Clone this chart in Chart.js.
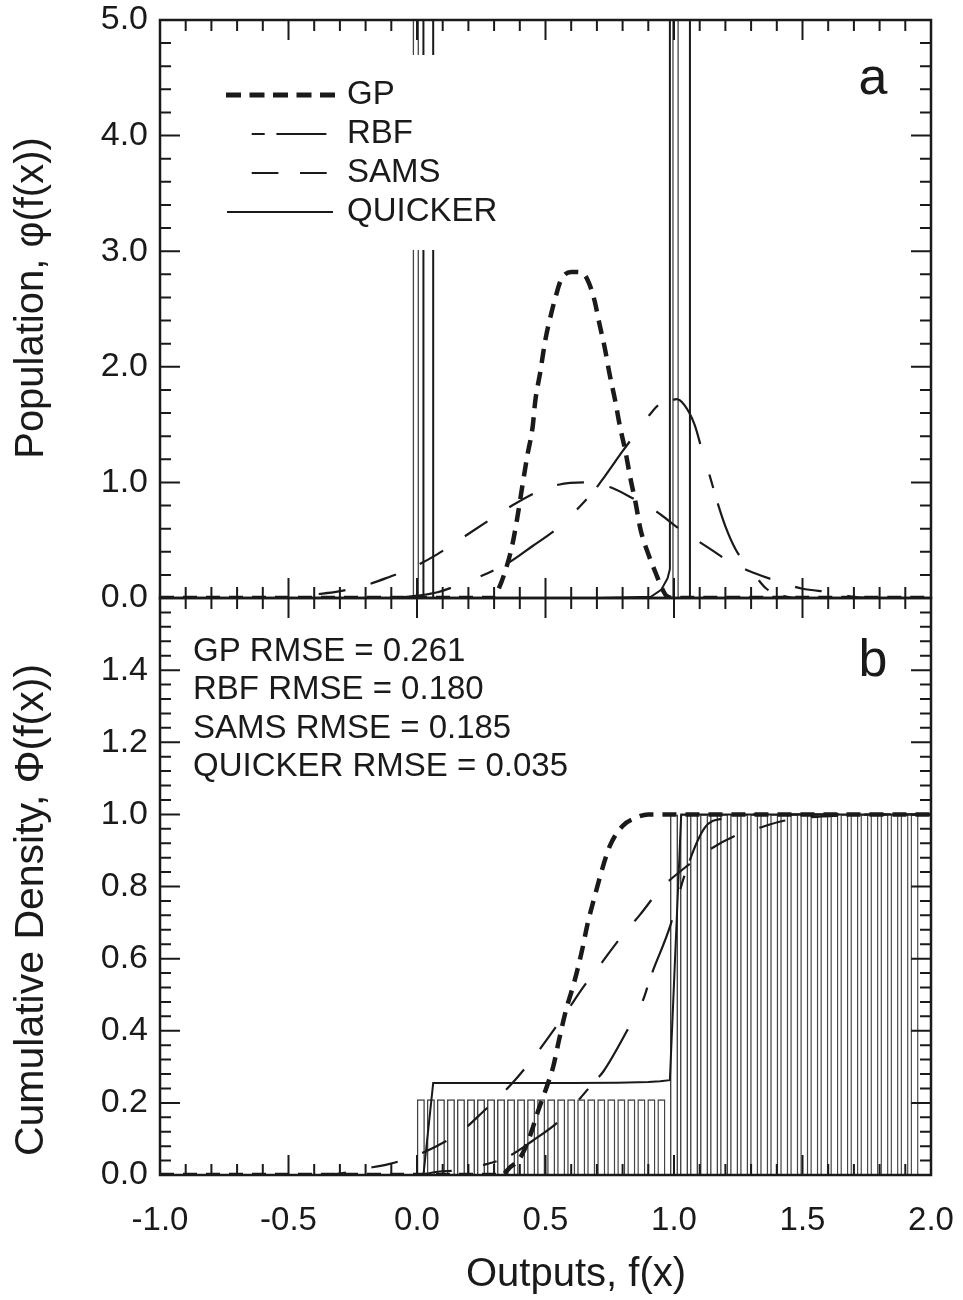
<!DOCTYPE html>
<html>
<head>
<meta charset="utf-8">
<title>Population and cumulative density</title>
<script src="https://cdn.jsdelivr.net/npm/chart.js@4.4.1/dist/chart.umd.min.js"></script>
<style>
  body { margin: 0; background: #fff; }
  #wrap { position: relative; width: 963px; height: 1300px; }
  #panelA { position: absolute; left: 0; top: 0; }
  #panelB { position: absolute; left: 0; top: 578px; }
</style>
</head>
<body>
<div id="wrap">
  <canvas id="panelA" width="963" height="630"></canvas>
  <canvas id="panelB" width="963" height="722"></canvas>
</div>
<script>
const INK = "#1a1a1a";
const FONT = '"Liberation Sans", Arial, Helvetica, sans-serif';

// ---- panel a : population phi(f(x)) ----
const GP_A_X = [-1.0, 0.30, 0.31, 0.34, 0.37, 0.39, 0.41, 0.43, 0.45, 0.46, 0.48, 0.50, 0.52, 0.54, 0.56, 0.60, 0.62, 0.65, 0.67, 0.69, 0.71, 0.73, 0.75, 0.77, 0.79, 0.81, 0.83, 0.85, 0.87, 0.90, 0.93, 0.95, 0.97, 1.00, 2.00];
const GP_A_Y = [0, 0, 0.04, 0.21, 0.45, 0.69, 0.97, 1.24, 1.48, 1.70, 1.96, 2.24, 2.44, 2.61, 2.75, 2.82, 2.82, 2.80, 2.72, 2.58, 2.37, 2.17, 1.93, 1.72, 1.48, 1.28, 1.04, 0.83, 0.59, 0.38, 0.21, 0.10, 0.02, 0, 0];

const RBF_A_X = [-1.0, -0.10, 0.00, 0.08, 0.17, 0.27, 0.36, 0.45, 0.55, 0.65, 0.69, 0.73, 0.80, 0.86, 0.90, 0.94, 0.99, 1.01, 1.04, 1.08, 1.11, 1.14, 1.17, 1.20, 1.24, 1.31, 1.36, 1.42, 1.50, 2.00];
const RBF_A_Y = [0, 0, 0.02, 0.05, 0.12, 0.21, 0.31, 0.45, 0.61, 0.83, 0.93, 1.05, 1.27, 1.45, 1.57, 1.67, 1.71, 1.72, 1.67, 1.50, 1.27, 1.05, 0.82, 0.62, 0.42, 0.21, 0.08, 0.02, 0, 0];

const SAMS_A_X = [-1.0, -0.50, -0.40, -0.31, -0.215, -0.11, -0.02, 0.08, 0.17, 0.265, 0.37, 0.47, 0.55, 0.65, 0.71, 0.75, 0.85, 0.93, 1.02, 1.13, 1.22, 1.32, 1.41, 1.50, 1.61, 1.70, 1.80, 2.00];
const SAMS_A_Y = [0, 0, 0.03, 0.055, 0.10, 0.18, 0.26, 0.38, 0.51, 0.65, 0.80, 0.92, 0.98, 1.00, 0.98, 0.96, 0.85, 0.75, 0.60, 0.44, 0.31, 0.21, 0.14, 0.08, 0.05, 0.01, 0, 0];

// spikes go off the top of the panel (8 > 5)
const QUICKER_A_X = [-1.0, 0.025, 0.025, 0.063, 0.063, 0.71, 0.91, 0.95, 0.975, 0.984, 0.984, 1.062, 1.062, 2.0];
const QUICKER_A_Y = [0, 0, 8, 8, 0, 0, 0.01, 0.07, 0.17, 0.25, 8, 8, 0, 0];

const TRUE_A_X = [-1.0, -0.014, -0.014, 0.005, 0.005, 0.996, 0.996, 1.016, 1.016, 2.0];
const TRUE_A_Y = [0, 0, 8, 8, 0, 0, 8, 8, 0, 0];

// ---- panel b : cumulative density Phi(f(x)) ----
const GP_B_X = [-1.0, 0.33, 0.36, 0.40, 0.43, 0.45, 0.47, 0.49, 0.51, 0.53, 0.55, 0.58, 0.61, 0.64, 0.665, 0.695, 0.72, 0.75, 0.80, 0.85, 0.90, 2.00];
const GP_B_Y = [0, 0, 0.02, 0.046, 0.09, 0.13, 0.175, 0.215, 0.255, 0.30, 0.366, 0.458, 0.53, 0.616, 0.70, 0.782, 0.847, 0.912, 0.968, 0.99, 1.0, 1.0];

const RBF_B_X = [-1.0, 0.0, 0.08, 0.17, 0.27, 0.355, 0.45, 0.55, 0.635, 0.685, 0.725, 0.83, 0.88, 0.91, 0.985, 1.04, 1.12, 1.20, 1.30, 2.00];
const RBF_B_Y = [0, 0, 0.009, 0.014, 0.03, 0.051, 0.095, 0.148, 0.213, 0.255, 0.287, 0.417, 0.486, 0.551, 0.69, 0.829, 0.963, 0.99, 1.0, 1.0];

const SAMS_B_X = [-1.0, -0.40, -0.31, -0.21, -0.11, -0.013, 0.074, 0.171, 0.258, 0.365, 0.442, 0.51, 0.587, 0.645, 0.713, 0.781, 0.868, 0.946, 1.042, 1.129, 1.236, 1.333, 1.419, 1.516, 1.65, 1.80, 2.00];
const SAMS_B_Y = [0, 0, 0.003, 0.017, 0.03, 0.052, 0.079, 0.12, 0.176, 0.25, 0.315, 0.38, 0.458, 0.519, 0.583, 0.648, 0.722, 0.792, 0.852, 0.898, 0.94, 0.963, 0.981, 0.991, 0.997, 1.0, 1.0];

const QUICKER_B_X = [-1.0, 0.025, 0.063, 0.30, 0.60, 0.78, 0.90, 0.946, 0.984, 1.028, 2.0];
const QUICKER_B_Y = [0, 0, 0.255, 0.255, 0.255, 0.256, 0.258, 0.26, 0.263, 1.0, 1.0];

// true cdf drawn as thin bars
const BAR_X = [0.015, 0.054, 0.093, 0.132, 0.171, 0.210, 0.249, 0.288, 0.327, 0.366, 0.405, 0.444, 0.483, 0.522, 0.561, 0.600, 0.639, 0.678, 0.717, 0.756, 0.795, 0.834, 0.873, 0.912, 0.951,
               1.000, 1.039, 1.078, 1.117, 1.156, 1.195, 1.234, 1.273, 1.312, 1.351, 1.390, 1.429, 1.468, 1.507, 1.546, 1.585, 1.624, 1.663, 1.702, 1.741, 1.780, 1.819, 1.858, 1.897, 1.936];
const BAR_Y = [0.21, 0.21, 0.21, 0.21, 0.21, 0.21, 0.21, 0.21, 0.21, 0.21, 0.21, 0.21, 0.21, 0.21, 0.21, 0.21, 0.21, 0.21, 0.21, 0.21, 0.21, 0.21, 0.21, 0.21, 0.21,
               1, 1, 1, 1, 1, 1, 1, 1, 1, 1, 1, 1, 1, 1, 1, 1, 1, 1, 1, 1, 1, 1, 1, 1, 1];

const LABELS = ["GP", "RBF", "SAMS", "QUICKER"];
const RMSE = ["0.261", "0.180", "0.185", "0.035"];

Chart.defaults.font.family = FONT;
Chart.defaults.color = INK;

function pts(xs, ys) {
  return xs.map((x, i) => ({ x: x, y: ys[i] }));
}

function curve(label, xs, ys, width, dash, smooth) {
  return {
    label: label,
    data: pts(xs, ys),
    borderColor: INK,
    borderWidth: width,
    borderDash: dash,
    pointRadius: 0,
    fill: false,
    tension: 0,
    cubicInterpolationMode: smooth ? "monotone" : "default"
  };
}

const GP_DASH = [14, 9];
const RBF_DASH = [56, 32, 14, 16];
const SAMS_DASH = [27, 26];

// keep the chart area where we put it: no extra room for edge labels
function fixY(s) { s.width = 160; s.paddingTop = 0; s.paddingBottom = 0; }
function fixX(s) { s.height = 125; s.paddingLeft = 0; s.paddingRight = 0; }

// frame + inward ticks on all four sides
const frameTicks = {
  id: "frameTicks",
  afterDraw(chart, args, o) {
    const { ctx, chartArea: a } = chart;
    const x = chart.scales.x, y = chart.scales.y;
    ctx.save();
    ctx.strokeStyle = INK;
    ctx.lineWidth = 2;
    ctx.beginPath();
    for (let k = 0; k <= 30; k++) {
      const px = x.getPixelForValue(-1 + k * 0.1);
      const len = k % 5 === 0 ? 20 : 11;
      ctx.moveTo(px, a.top); ctx.lineTo(px, a.top + len);
      ctx.moveTo(px, a.bottom); ctx.lineTo(px, a.bottom - len);
    }
    const n = Math.round(y.max / o.yStep);
    for (let k = 0; k <= n; k++) {
      const py = y.getPixelForValue(k * o.yStep);
      const len = k % 5 === 0 ? 20 : 11;
      ctx.moveTo(a.left, py); ctx.lineTo(a.left + len, py);
      ctx.moveTo(a.right, py); ctx.lineTo(a.right - len, py);
    }
    ctx.stroke();
    ctx.lineWidth = 2.5;
    ctx.strokeRect(a.left, a.top, a.right - a.left, a.bottom - a.top);
    ctx.restore();
  }
};

// legend box, annotations, panel letters, axis titles
const notes = {
  id: "notes",
  afterDatasetsDraw(chart, args, o) {
    const ctx = chart.ctx;
    ctx.save();
    if (o.box) {
      ctx.fillStyle = "#fff";
      ctx.fillRect(o.box[0], o.box[1], o.box[2], o.box[3]);
    }
    (o.keys || []).forEach(k => {
      ctx.strokeStyle = INK;
      ctx.lineWidth = k.width;
      ctx.setLineDash(k.dash);
      ctx.beginPath();
      ctx.moveTo(k.from, k.y);
      ctx.lineTo(k.to, k.y);
      ctx.stroke();
    });
    ctx.setLineDash([]);
    (o.texts || []).forEach(t => {
      ctx.font = t.size + "px " + FONT;
      ctx.fillStyle = INK;
      ctx.textAlign = t.align || "left";
      ctx.textBaseline = t.base || "middle";
      ctx.save();
      ctx.translate(t.x, t.y);
      if (t.rot) ctx.rotate(t.rot);
      ctx.fillText(t.text, 0, 0);
      ctx.restore();
    });
    ctx.restore();
  }
};

const keyRows = [
  { width: 5, dash: [15, 8.5], from: 226, to: 335, y: 95 },
  { width: 2, dash: [13, 11.7, 50, 30], from: 251.7, to: 327, y: 134 },
  { width: 2, dash: [26.7, 21.6], from: 251.7, to: 327, y: 173 },
  { width: 2, dash: [], from: 227, to: 333, y: 212 }
];
const keyTexts = LABELS.map((l, i) => ({ text: l, x: 347, y: keyRows[i].y, size: 33 }));

new Chart(document.getElementById("panelA"), {
  type: "line",
  data: {
    datasets: [
      curve("GP", GP_A_X, GP_A_Y, 4.5, GP_DASH, true),
      curve("RBF", RBF_A_X, RBF_A_Y, 2.2, RBF_DASH, true),
      curve("SAMS", SAMS_A_X, SAMS_A_Y, 2.2, SAMS_DASH, true),
      curve("QUICKER", QUICKER_A_X, QUICKER_A_Y, 2, [], false),
      Object.assign(curve("true", TRUE_A_X, TRUE_A_Y, 1.3, [], false), { borderColor: "#444" })
    ]
  },
  options: {
    responsive: false,
    animation: false,
    events: [],
    layout: { padding: { top: 20, right: 32, bottom: 32, left: 0 } },
    plugins: {
      legend: { display: false },
      tooltip: { enabled: false },
      frameTicks: { yStep: 0.2 },
      notes: {
        box: [200, 55, 315, 195],
        keys: keyRows,
        texts: keyTexts.concat([
          { text: "a", x: 873, y: 94, size: 52, align: "center", base: "alphabetic" },
          { text: "Population, \u03C6(f(x))", x: 32, y: 298, size: 40, align: "center", rot: -Math.PI / 2 }
        ])
      }
    },
    scales: {
      x: { type: "linear", min: -1, max: 2, display: false },
      y: {
        min: 0, max: 5,
        grid: { display: false, drawTicks: false },
        border: { display: false },
        ticks: { stepSize: 1, padding: 12, font: { size: 34 }, callback: v => v.toFixed(1) },
        afterFit: fixY
      }
    }
  },
  plugins: [frameTicks, notes]
});

const annTexts = LABELS.map((l, i) => ({ text: l + " RMSE = " + RMSE[i], x: 193, y: 74 + i * 38.4, size: 33 }));

new Chart(document.getElementById("panelB"), {
  type: "line",
  data: {
    datasets: [
      curve("GP", GP_B_X, GP_B_Y, 4.5, GP_DASH, true),
      curve("RBF", RBF_B_X, RBF_B_Y, 2.2, RBF_DASH, true),
      curve("SAMS", SAMS_B_X, SAMS_B_Y, 2.2, SAMS_DASH, true),
      curve("QUICKER", QUICKER_B_X, QUICKER_B_Y, 2, [], false),
      {
        type: "bar",
        label: "true",
        data: pts(BAR_X, BAR_Y),
        backgroundColor: "rgba(255,255,255,0)",
        borderColor: "#444",
        borderWidth: 1.4,
        barPercentage: 0.8,
        categoryPercentage: 1,
        order: 10
      }
    ]
  },
  options: {
    responsive: false,
    animation: false,
    events: [],
    layout: { padding: { top: 20, right: 32, bottom: 0, left: 0 } },
    plugins: {
      legend: { display: false },
      tooltip: { enabled: false },
      frameTicks: { yStep: 0.04 },
      notes: {
        texts: annTexts.concat([
          { text: "b", x: 873, y: 98, size: 52, align: "center", base: "alphabetic" },
          { text: "Cumulative Density, \u03A6(f(x))", x: 32, y: 332, size: 41, align: "center", rot: -Math.PI / 2 },
          { text: "Outputs, f(x)", x: 576, y: 697, size: 40, align: "center" }
        ])
      }
    },
    scales: {
      x: {
        type: "linear", min: -1, max: 2, offset: false,
        grid: { display: false, drawTicks: false },
        border: { display: false },
        ticks: { stepSize: 0.5, padding: 26, font: { size: 33 }, callback: v => v.toFixed(1) },
        afterFit: fixX
      },
      y: {
        min: 0, max: 1.6,
        grid: { display: false, drawTicks: false },
        border: { display: false },
        ticks: { stepSize: 0.2, padding: 12, font: { size: 34 }, callback: v => (v > 1.5 ? "" : v.toFixed(1)) },
        afterFit: fixY
      }
    }
  },
  plugins: [frameTicks, notes]
});
</script>
</body>
</html>
